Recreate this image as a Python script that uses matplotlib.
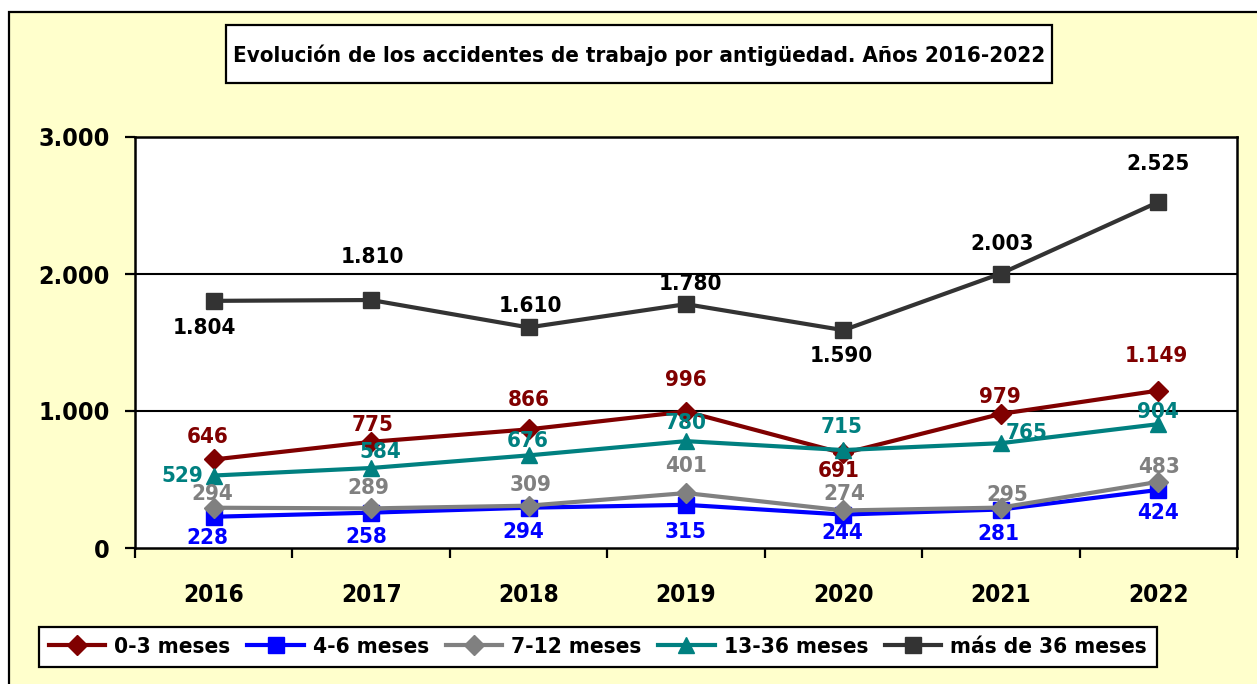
import matplotlib
matplotlib.use("Agg")
import matplotlib.pyplot as plt
from matplotlib.patches import Rectangle
from matplotlib.ticker import FuncFormatter, FixedLocator

years = ["2016", "2017", "2018", "2019", "2020", "2021", "2022"]
series_names = ["0-3 meses", "4-6 meses", "7-12 meses", "13-36 meses", "más de 36 meses"]
v_0_3 = [646, 775, 866, 996, 691, 979, 1149]
v_4_6 = [228, 258, 294, 315, 244, 281, 424]
v_7_12 = [294, 289, 309, 401, 274, 295, 483]
v_13_36 = [529, 584, 676, 780, 715, 765, 904]
v_36_plus = [1804, 1810, 1610, 1780, 1590, 2003, 2525]
title = "Evolución de los accidentes de trabajo por antigüedad. Años 2016-2022"

# styles
colors = ["#800000", "#0000FF", "#808080", "#008080", "#333333"]
label_colors = ["#800000", "#0000FF", "#808080", "#008080", "#000000"]
markers = ["D", "s", "D", "^", "s"]
msizes = [10, 11, 10, 11, 12]
# label offsets in pixels (dx, dy up)
off_0_3 = [(-6, 22), (1, 17), (0, 29), (0, 32), (-5, -18), (-1, 17), (-2, 35)]
off_4_6 = [(-6, -21), (-5, -24), (-5, -24), (0, -27), (-1, -18), (-2, -24), (0, -23)]
off_7_12 = [(-1, 14), (-3, 20), (2, 21), (0, 27), (1, 16), (6, 13), (1, 15)]
off_13_36 = [(-31, 0), (9, 16), (-1, 14), (0, 18), (-2, 23), (26, 10), (0, 12)]
off_36 = [(-9, -27), (1, 43), (2, 21), (4, 20), (-2, -26), (1, 30), (0, 38)]

FONT = "DejaVu Sans"
plt.rcParams["font.family"] = [FONT]

def fmt(v):
    return f"{int(v):,}".replace(",", ".")

W, H = 1257, 684
fig = plt.figure(figsize=(W / 100, H / 100), dpi=100)
fig.patch.set_facecolor("white")

# outer chart area
fig.patches.append(Rectangle((9 / W, -0.1), 1.2, 1 - 12 / H + 0.1, transform=fig.transFigure,
                             facecolor="#FFFFCC", edgecolor="black", linewidth=1.6, zorder=-5))

ax = fig.add_axes([135 / W, 1 - 548 / H, (1237 - 135) / W, (548 - 137) / H])
ax.set_zorder(2)
ax.set_facecolor("white")

x = list(range(len(years)))
all_vals = [v_0_3, v_4_6, v_7_12, v_13_36, v_36_plus]
all_offs = [off_0_3, off_4_6, off_7_12, off_13_36, off_36]
lines = []
for vals, offs, c, lc, m, ms, name in zip(all_vals, all_offs, colors, label_colors, markers, msizes, series_names):
    ln, = ax.plot(x, vals, color=c, marker=m, markersize=ms, linewidth=3, label=name,
                  markeredgecolor=c, zorder=3, clip_on=False)
    lines.append(ln)
    for xi, v, (dx, dy) in zip(x, vals, offs):
        ax.annotate(fmt(v), (xi, v), xytext=(dx, dy), textcoords="offset pixels",
                    ha="center", va="center", color=lc, fontsize=16, fontweight="bold",
                    fontstretch="condensed", zorder=4)

ax.set_xlim(-0.5, len(years) - 0.5)
ax.set_ylim(0, 3000)
ax.yaxis.set_major_locator(FixedLocator([0, 1000, 2000, 3000]))
ax.yaxis.set_major_formatter(FuncFormatter(lambda v, p: fmt(v)))
ax.set_xticks(x)
ax.set_xticklabels(years)
ax.set_xticks([i - 0.5 for i in range(len(years) + 1)], minor=True)
ax.tick_params(axis="x", which="major", length=0, pad=25, labelsize=17.5)
ax.tick_params(axis="x", which="minor", length=7, width=1.6, direction="out")
ax.tick_params(axis="y", which="major", length=7, width=1.6, direction="out", pad=11, labelsize=18)
for lab in ax.get_xticklabels() + ax.get_yticklabels():
    lab.set_fontweight("bold")
    lab.set_fontstretch("condensed")
for g in [1000, 2000]:
    ax.axhline(g, color="black", linewidth=1.5, zorder=1)
for s in ax.spines.values():
    s.set_linewidth(1.8)
    s.set_color("black")

# title box
fig.patches.append(Rectangle((226 / W, 1 - 83 / H), (1052 - 226) / W, (83 - 25) / H,
                             transform=fig.transFigure, facecolor="white", edgecolor="black",
                             linewidth=1.6, zorder=1))
fig.text(639 / W, 1 - 55 / H, title, ha="center", va="center", fontsize=16,
         fontweight="bold", fontstretch="condensed", zorder=2)

leg = fig.legend(handles=lines, loc="center", bbox_to_anchor=((43 + 1153) / 2 / W, 1 - 647 / H),
                 ncol=5, frameon=True, fancybox=False, edgecolor="black", framealpha=1,
                 prop={"size": 16.2, "weight": "bold", "stretch": "condensed"},
                 handlelength=2.5, handletextpad=0.4, columnspacing=0.75, borderpad=0.45)
leg.get_frame().set_linewidth(1.6)

fig.savefig("out.png", dpi=100, facecolor=fig.get_facecolor())
